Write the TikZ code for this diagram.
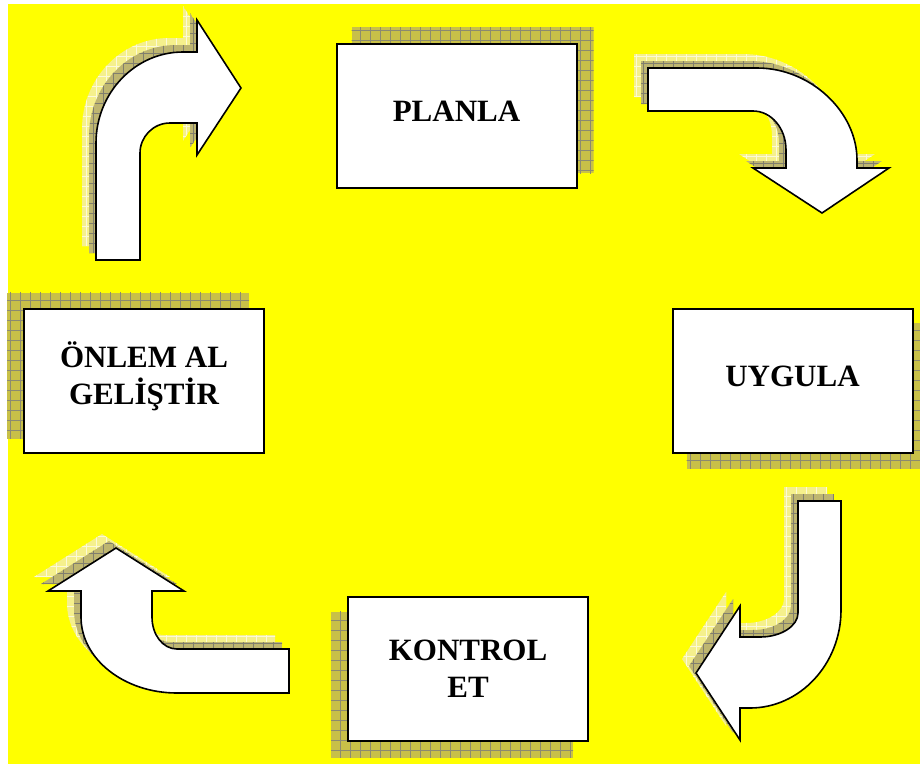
\documentclass[tikz,border=0pt]{standalone}
\usepackage{fontspec}
\setmainfont{Liberation Serif}
\usetikzlibrary{calc}
\definecolor{bgyellow}{RGB}{255,255,0}
\definecolor{boxsh}{RGB}{200,192,72}
\definecolor{boxgrid}{RGB}{140,138,112}
\definecolor{darksh}{RGB}{190,182,112}
\definecolor{darkgrid}{RGB}{128,126,110}
\definecolor{lightsh}{RGB}{245,240,140}
\definecolor{lightgrid}{RGB}{252,250,215}
\pgfdeclarelayer{bg}
\pgfsetlayers{bg,main}
\newcommand\gridpatch[3]{\begin{scope}\clip #1;\fill[#2] #1;\draw[#3,line width=0.7pt,step=10pt] (-20,-20) grid (940,780);\end{scope}}
\newcommand\bentarrow[1]{%
  \begin{scope}[shift={(-14,-14)}]\gridpatch{#1}{lightsh}{lightgrid}\end{scope}%
  \begin{scope}[shift={(-7,-7)}]\gridpatch{#1}{darksh}{darkgrid}\end{scope}%
  \path[arrowbody] #1;}
\def\arrowA{(96,260) -- (96,143) .. controls (96,93) and (135,52) .. (183,52) -- (197,52) -- (197,20) -- (241,88) -- (197,155) -- (197,123) -- (170,123) .. controls (153,123) and (140,137) .. (140,153) -- (140,260) -- cycle}
\def\arrowB{(648,68) -- (757,68) .. controls (811,68) and (857,112) .. (857,160) -- (857,168) -- (889,168) -- (822,213) -- (753,168) -- (786,168) -- (786,150) .. controls (786,128) and (771,111) .. (753,111) -- (648,111) -- cycle}
\def\arrowC{(798,501) -- (841,501) -- (841,610) .. controls (841,664) and (800,708) .. (750,708) -- (740,708) -- (740,740) -- (696,673) -- (740,606) -- (740,637) -- (760,637) .. controls (781,637) and (798,626) .. (798,613) -- cycle}
\def\arrowD{(289,693) -- (177,693) .. controls (124,693) and (81,659) .. (81,617) -- (81,591) -- (48,591) -- (116,548) -- (184,591) -- (152,591) -- (152,617) .. controls (152,635) and (163,649) .. (177,649) -- (289,649) -- cycle}
\tikzset{
  stagebox/.style={draw=black, fill=white, line width=2pt, minimum width=240pt, minimum height=144pt, inner sep=0pt, align=center, font=\fontsize{31}{37}\selectfont\bfseries},
  arrowbody/.style={draw=black, fill=white, line width=1.6pt}
}
\begin{document}
\begin{tikzpicture}[x=1pt,y=-1pt]
\useasboundingbox (0,0) rectangle (920,763);
\begin{pgfonlayer}{bg}
\fill[white] (0,0) rectangle (920,763);
\fill[bgyellow] (8,4) rectangle (921,764);
\end{pgfonlayer}

\node[stagebox, text depth=9pt] (plan) at (456.5,116) {PLANLA};
\node[stagebox, text depth=9pt] (uyg) at (792.5,380.5) {UYGULA};
\node[stagebox] (kont) at (468,668.5) {KONTROL\\ET};
\node[stagebox, text depth=14pt] (onl) at (144,380.5) {ÖNLEM AL\\GELİŞTİR};

\begin{pgfonlayer}{bg}
\gridpatch{($(plan.north west)+(16,-16)$) rectangle ($(plan.south east)+(16,-16)$)}{boxsh}{boxgrid}
\gridpatch{($(uyg.north west)+(15,15)$) rectangle ($(uyg.south east)+(15,15)$)}{boxsh}{boxgrid}
\gridpatch{($(kont.north west)+(-16,16)$) rectangle ($(kont.south east)+(-16,16)$)}{boxsh}{boxgrid}
\gridpatch{($(onl.north west)+(-16,-15)$) rectangle ($(onl.south east)+(-16,-15)$)}{boxsh}{boxgrid}
\end{pgfonlayer}

\bentarrow{\arrowA}
\bentarrow{\arrowB}
\bentarrow{\arrowC}
\bentarrow{\arrowD}
\end{tikzpicture}
\end{document}
